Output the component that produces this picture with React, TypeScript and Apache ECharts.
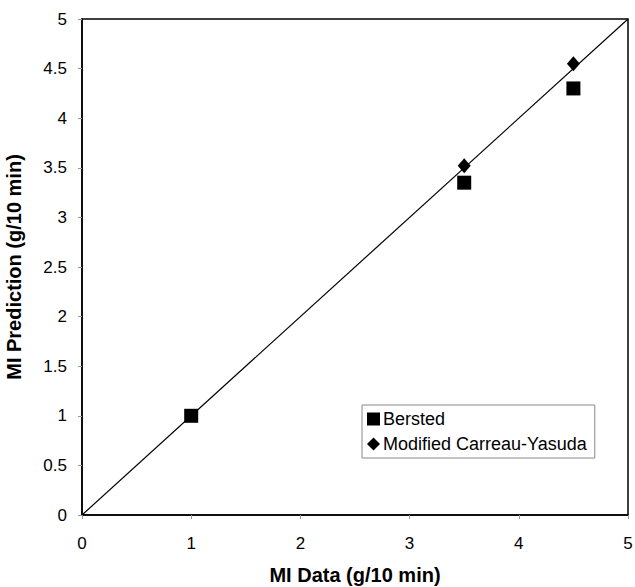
import React, { useEffect, useRef } from "react";
import * as echarts from "echarts";

const berstedX = [1, 3.5, 4.5];
const berstedY = [1, 3.35, 4.3];
const carreauX = [3.5, 4.5];
const carreauY = [3.52, 4.55];
const parityLine = [[0, 0], [5, 5]];
const seriesNames = ["Bersted", "Modified Carreau-Yasuda"];

export default function App() {
  const ref = useRef<HTMLDivElement>(null);
  useEffect(() => {
    if (!ref.current) return;
    const chart = echarts.init(ref.current, null, { renderer: "svg" });
    const font = "Liberation Sans, Arial, sans-serif";
    chart.setOption({
      animation: false,
      backgroundColor: "#fff",
      textStyle: { fontFamily: font },
      grid: {
        left: 82,
        right: 7,
        top: 19,
        bottom: 72,
        containLabel: false,
        outerBoundsMode: "none",
        show: true,
        borderColor: "#000",
        borderWidth: 1.5,
        backgroundColor: "transparent",
      },
      legend: {
        data: [
          { name: seriesNames[0], icon: "rect" },
          { name: seriesNames[1], icon: "diamond" },
        ],
        orient: "vertical",
        left: 362,
        top: 405,
        itemWidth: 13,
        itemHeight: 13,
        itemGap: 7,
        padding: [5, 8, 5, 5],
        borderColor: "#888",
        borderWidth: 1,
        backgroundColor: "#fff",
        textStyle: { fontFamily: font, fontSize: 18, color: "#000", padding: [0, 0, 0, -2] },
      },
      xAxis: {
        type: "value",
        min: 0,
        max: 5,
        interval: 1,
        name: "MI Data (g/10 min)",
        nameLocation: "middle",
        nameGap: 50,
        nameTextStyle: { fontFamily: font, fontSize: 20, fontWeight: "bold", color: "#000" },
        axisLine: { show: true, onZero: false, lineStyle: { color: "#000", width: 1.5 } },
        axisTick: { show: true, length: 4, lineStyle: { color: "#999" } },
        axisLabel: { fontFamily: font, fontSize: 17, color: "#000", margin: 20 },
        splitLine: { show: false },
      },
      yAxis: {
        type: "value",
        min: 0,
        max: 5,
        interval: 0.5,
        name: "MI Prediction (g/10 min)",
        nameLocation: "middle",
        nameGap: 58,
        nameTextStyle: { fontFamily: font, fontSize: 20, fontWeight: "bold", color: "#000" },
        axisLine: { show: true, onZero: false, lineStyle: { color: "#000", width: 1.5 } },
        axisTick: { show: true, length: 4, lineStyle: { color: "#999" } },
        axisLabel: { fontFamily: font, fontSize: 17, color: "#000", margin: 15 },
        splitLine: { show: false },
      },
      series: [
        {
          type: "line",
          data: parityLine,
          showSymbol: false,
          symbol: "none",
          silent: true,
          lineStyle: { color: "#000", width: 1.2 },
          z: 1,
        },
        {
          name: seriesNames[0],
          type: "scatter",
          data: berstedX.map((x, i) => [x, berstedY[i]]),
          symbol: "rect",
          symbolSize: 14,
          itemStyle: { color: "#000", opacity: 1 },
          z: 3,
        },
        {
          name: seriesNames[1],
          type: "scatter",
          data: carreauX.map((x, i) => [x, carreauY[i]]),
          symbol: "diamond",
          symbolSize: [13, 15],
          itemStyle: { color: "#000", opacity: 1 },
          z: 3,
        },
      ],
    });
    return () => chart.dispose();
  }, []);
  return <div ref={ref} style={{ width: 635, height: 587, position: "absolute", left: 0, top: 0 }} />;
}
